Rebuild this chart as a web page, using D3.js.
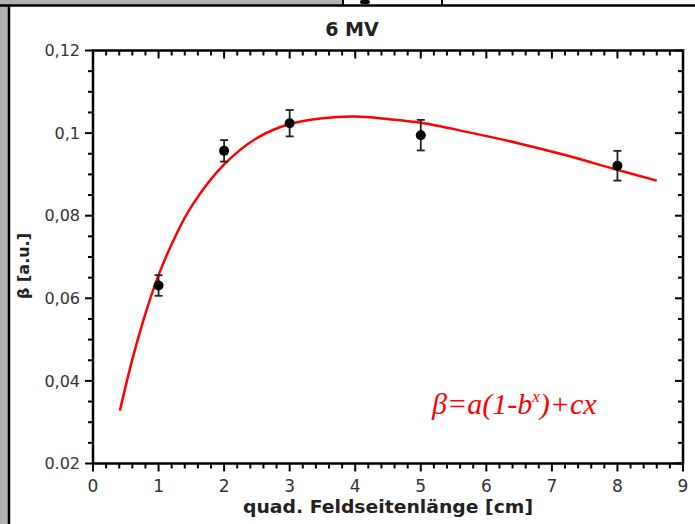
<!DOCTYPE html>
<html>
<head>
<meta charset="utf-8">
<script src="https://cdn.jsdelivr.net/npm/d3@7"></script>
<style>
  body { margin: 0; background: #fff; }
  svg { display: block; }
</style>
</head>
<body>
<div id="graph"></div>
<script>
// data
const fieldSizes = [1, 2, 3, 5, 8];
const betaValues = [0.0631, 0.0957, 0.1024, 0.0995, 0.0921];
const betaErrors = [0.0025, 0.0026, 0.0032, 0.0037, 0.0036];

// fitted curve
const fitX = [0.41, 0.6, 0.8, 1.0, 1.25, 1.5, 2.0, 2.5, 3.0, 3.5, 4.0, 4.5, 5.0, 5.7, 6.5, 7.2, 8.0, 8.6];
const fitY = [0.0328, 0.0452, 0.0563, 0.0656, 0.0748, 0.0822, 0.0924, 0.0988, 0.1022, 0.1036, 0.104, 0.1034, 0.1025, 0.1003, 0.0975, 0.0947, 0.0911, 0.0885];

const xTicks = [0, 1, 2, 3, 4, 5, 6, 7, 8, 9];
const xTickLabels = ["0", "1", "2", "3", "4", "5", "6", "7", "8", "9"];
const yTicks = [0.02, 0.04, 0.06, 0.08, 0.1, 0.12];
const yTickLabels = ["0.02", "0,04", "0,06", "0,08", "0,1", "0,12"];

const W = 695, H = 524;
const plot = {left: 93, right: 683, top: 50.5, bottom: 463.5};

let svg = d3.select("#graph").append("svg")
    .attr("width", W).attr("height", H);

// background bits around the panel
svg.append("rect").attr("x", 0).attr("y", 0).attr("width", W).attr("height", H).attr("fill", "#fff");
svg.append("rect").attr("x", 0).attr("y", 0).attr("width", 9).attr("height", H).attr("fill", "#b3b3b3");
svg.append("rect").attr("x", 0).attr("y", 0).attr("width", 342).attr("height", 5).attr("fill", "#b3b3b3");
svg.append("line").attr("x1", 343).attr("x2", 343).attr("y1", 0).attr("y2", 5).attr("stroke", "#000").attr("stroke-width", 2);
svg.append("line").attr("x1", 442).attr("x2", 442).attr("y1", 0).attr("y2", 5).attr("stroke", "#000").attr("stroke-width", 2);
svg.append("rect").attr("x", 360).attr("y", 0).attr("width", 10).attr("height", 4).attr("rx", 2).attr("fill", "#000");
svg.append("line").attr("x1", 0).attr("x2", W).attr("y1", 5.5).attr("y2", 5.5).attr("stroke", "#000").attr("stroke-width", 2.5);
svg.append("line").attr("x1", 9).attr("x2", 9).attr("y1", 5).attr("y2", H).attr("stroke", "#000").attr("stroke-width", 2.5);

const x = d3.scaleLinear().domain([0, 9]).range([plot.left, plot.right]);
const y = d3.scaleLinear().domain([0.02, 0.12]).range([plot.bottom, plot.top]);

const xMinor = d3.range(0, 9.001, 0.2).filter(v => Math.abs(v - Math.round(v)) > 0.01);
const yMinor = d3.range(0.02, 0.1201, 0.005).filter(v => Math.abs(v / 0.02 - Math.round(v / 0.02)) > 0.01);

// tick marks: left/bottom point outward, top/right point inward
let ticks = svg.append("g").attr("stroke", "#000").attr("stroke-width", 2);
function xTickMarks(vals, y0, len) {
  ticks.append("g").selectAll("line").data(vals).enter().append("line")
    .attr("x1", d => x(d)).attr("x2", d => x(d))
    .attr("y1", y0).attr("y2", y0 + len);
}
function yTickMarks(vals, x0, len) {
  ticks.append("g").selectAll("line").data(vals).enter().append("line")
    .attr("y1", d => y(d)).attr("y2", d => y(d))
    .attr("x1", x0).attr("x2", x0 + len);
}
xTickMarks(xTicks, plot.bottom, 8);
xTickMarks(xMinor, plot.bottom, 5);
xTickMarks(xTicks, plot.top, 8);
xTickMarks(xMinor, plot.top, 5);
yTickMarks(yTicks, plot.left, -8);
yTickMarks(yMinor, plot.left, -5);
yTickMarks(yTicks, plot.right, -8);
yTickMarks(yMinor, plot.right, -5);

// tick labels
svg.append("g").selectAll("text").data(xTicks).enter().append("text")
  .attr("x", d => x(d)).attr("y", plot.bottom + 28)
  .attr("text-anchor", "middle").attr("font-family", "DejaVu Sans")
  .attr("font-size", 17).attr("fill", "#333")
  .text((d, i) => xTickLabels[i]);
svg.append("g").selectAll("text").data(yTicks).enter().append("text")
  .attr("x", plot.left - 13).attr("y", d => y(d)).attr("dy", "0.35em")
  .attr("text-anchor", "end").attr("font-family", "DejaVu Sans")
  .attr("font-size", 16).attr("fill", "#333")
  .text((d, i) => yTickLabels[i]);

// frame
svg.append("rect")
  .attr("x", plot.left).attr("y", plot.top)
  .attr("width", plot.right - plot.left).attr("height", plot.bottom - plot.top)
  .attr("fill", "none").attr("stroke", "#000").attr("stroke-width", 2.5);

// fit curve
const fitData = fitX.map((v, i) => ({x: v, y: fitY[i]}));
const fitLine = d3.line().x(d => x(d.x)).y(d => y(d.y)).curve(d3.curveCatmullRom);
svg.append("path").datum(fitData)
  .attr("d", fitLine).attr("fill", "none")
  .attr("stroke", "#ff0000").attr("stroke-width", 2.5);

// measured points with error bars
const pts = fieldSizes.map((v, i) => ({x: v, y: betaValues[i], e: betaErrors[i]}));
let eb = svg.append("g").attr("stroke", "#222").attr("stroke-width", 1.8)
  .selectAll("g").data(pts).enter().append("g");
eb.append("line")
  .attr("x1", d => x(d.x)).attr("x2", d => x(d.x))
  .attr("y1", d => y(d.y + d.e)).attr("y2", d => y(d.y - d.e));
eb.append("line")
  .attr("x1", d => x(d.x) - 4).attr("x2", d => x(d.x) + 4)
  .attr("y1", d => y(d.y + d.e)).attr("y2", d => y(d.y + d.e));
eb.append("line")
  .attr("x1", d => x(d.x) - 4).attr("x2", d => x(d.x) + 4)
  .attr("y1", d => y(d.y - d.e)).attr("y2", d => y(d.y - d.e));
eb.append("circle")
  .attr("cx", d => x(d.x)).attr("cy", d => y(d.y)).attr("r", 5)
  .attr("fill", "#000").attr("stroke", "none");

// texts
svg.append("text").attr("x", 352).attr("y", 36)
  .attr("text-anchor", "middle").attr("font-family", "DejaVu Sans")
  .attr("font-weight", "bold").attr("font-size", 19).attr("fill", "#222")
  .text("6 MV");

svg.append("text").attr("x", 388).attr("y", 513)
  .attr("text-anchor", "middle").attr("font-family", "DejaVu Sans")
  .attr("font-weight", "bold").attr("font-size", 17).attr("fill", "#222")
  .attr("textLength", 290).attr("lengthAdjust", "spacingAndGlyphs")
  .text("quad. Feldseitenlänge [cm]");

svg.append("text").attr("transform", "translate(29,266) rotate(-90)")
  .attr("text-anchor", "middle").attr("font-family", "DejaVu Sans")
  .attr("font-weight", "bold").attr("font-size", 16).attr("fill", "#222")
  .text("β [a.u.]");

let formula = svg.append("text").attr("x", 432).attr("y", 414)
  .attr("font-family", "Liberation Serif").attr("font-style", "italic")
  .attr("font-size", 30).attr("fill", "#ff0000");
formula.append("tspan").text("β=a(1-b");
formula.append("tspan").attr("font-size", 17).attr("dy", -12).text("x");
formula.append("tspan").attr("dy", 12).text(")+cx");
</script>
</body>
</html>
